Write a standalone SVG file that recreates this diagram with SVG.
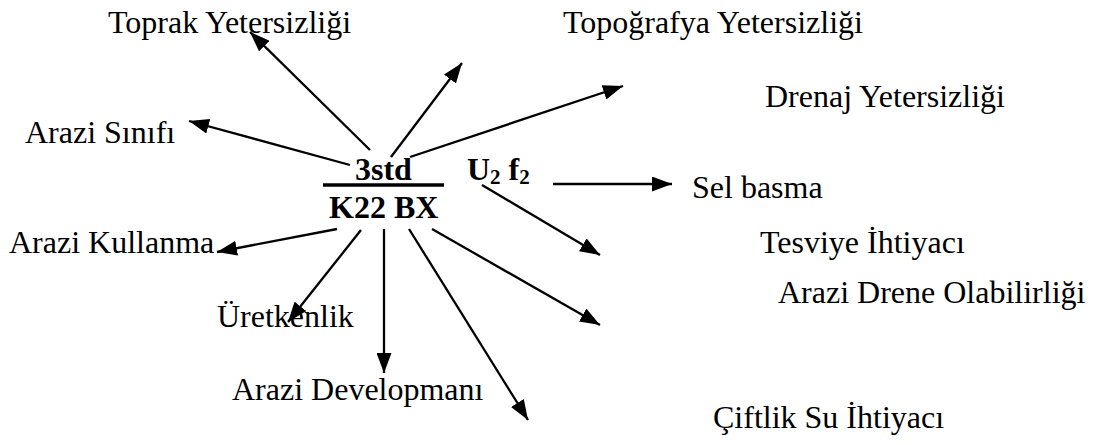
<svg xmlns="http://www.w3.org/2000/svg" width="1099" height="445" viewBox="0 0 1099 445">
<style>
text{font-family:"Liberation Serif","Times New Roman",serif;font-size:32px;fill:#000}
.b{font-weight:bold}
.c line{stroke:#000;stroke-width:2.3;marker-end:url(#ah)}
</style>
<defs>
<marker id="ah" viewBox="0 0 20 15" refX="20" refY="7.5" markerWidth="20" markerHeight="15" markerUnits="userSpaceOnUse" orient="auto">
<path d="M0,0 L20,7.5 L0,15 Z" fill="#000"/>
</marker>
</defs>
<rect width="1099" height="445" fill="#fff"/>
<g id="center">
<text class="b" x="355" y="180">3std</text>
<line x1="323" y1="185" x2="444" y2="185" stroke="#000" stroke-width="3.5"/>
<text class="b" x="329" y="218">K22 BX</text>
<text class="b" x="467" y="180">U<tspan font-size="21" dy="4">2</tspan><tspan dy="-4"> f</tspan><tspan font-size="21" dy="4">2</tspan></text>
</g>
<g id="n-toprak"><text x="108" y="33">Toprak Yetersizliği</text></g>
<g id="n-topografya"><text x="563" y="33">Topoğrafya Yetersizliği</text></g>
<g id="n-drenaj"><text x="765" y="107">Drenaj Yetersizliği</text></g>
<g id="n-sinif"><text x="25" y="143">Arazi Sınıfı</text></g>
<g id="n-sel"><text x="692" y="198">Sel basma</text></g>
<g id="n-tesviye"><text x="760" y="253">Tesviye İhtiyacı</text></g>
<g id="n-kullanma"><text x="9" y="253">Arazi Kullanma</text></g>
<g id="n-drene"><text x="778" y="303">Arazi Drene Olabilirliği</text></g>
<g id="n-uretkenlik"><text x="217" y="327">Üretkenlik</text></g>
<g id="n-developman"><text x="232" y="400">Arazi Developmanı</text></g>
<g id="n-ciftlik"><text x="713" y="428">Çiftlik Su İhtiyacı</text></g>
<g id="connectors" class="c">
<line x1="370" y1="150" x2="250" y2="32"/>
<line x1="391" y1="157" x2="462" y2="63"/>
<line x1="410" y1="157" x2="623" y2="86"/>
<line x1="350" y1="165" x2="189" y2="121"/>
<line x1="553" y1="184" x2="672" y2="184"/>
<line x1="482" y1="185" x2="600" y2="255"/>
<line x1="337" y1="229" x2="217" y2="252"/>
<line x1="361" y1="230" x2="288" y2="322"/>
<line x1="384" y1="229" x2="384" y2="373"/>
<line x1="409" y1="229" x2="528" y2="420"/>
<line x1="432" y1="229" x2="600" y2="325"/>
</g>
</svg>
